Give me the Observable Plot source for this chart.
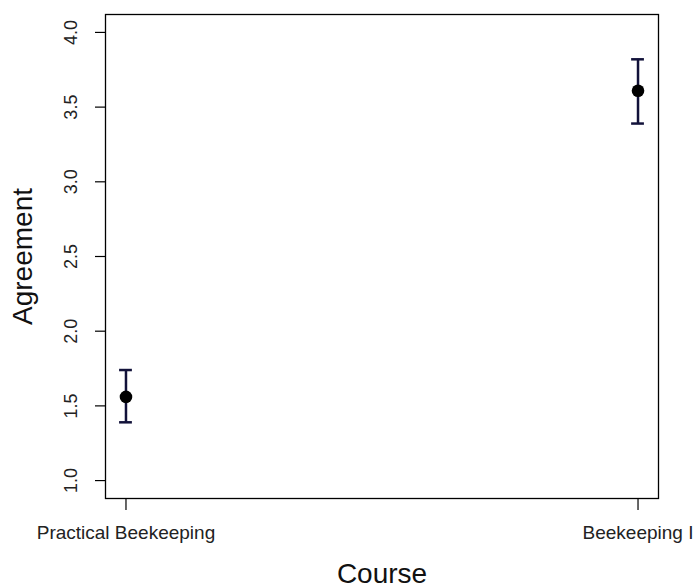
<!DOCTYPE html>
<html>
<head>
<meta charset="utf-8">
<script src="https://cdn.jsdelivr.net/npm/d3@7"></script>
<script src="https://cdn.jsdelivr.net/npm/@observablehq/plot@0.6"></script>
<style>
  html, body { margin: 0; padding: 0; background: #fff; }
  #chart svg { display: block; }
</style>
</head>
<body>
<div id="chart"></div>
<script>
const courses = ["Practical Beekeeping", "Beekeeping I"];
const positions = [1, 2];
const means = [1.56, 3.61];
const lower = [1.39, 3.39];
const upper = [1.74, 3.82];
const yTicks = [1.0, 1.5, 2.0, 2.5, 3.0, 3.5, 4.0];

const data = courses.map((c, i) => ({course: c, x: positions[i], mean: means[i], lo: lower[i], hi: upper[i]}));
const capHalf = 0.0125;
const barColor = "#12123a";
const font = "'Liberation Sans', Arial, Helvetica, sans-serif";

const chart = Plot.plot({
  width: 693,
  height: 588,
  marginLeft: 105,
  marginRight: 35,
  marginTop: 14,
  marginBottom: 90,
  style: {fontFamily: font, background: "#fff", color: "#000", overflow: "hidden"},
  x: {type: "linear", domain: [0.96, 2.04], axis: null},
  y: {type: "linear", domain: [0.88, 4.12], axis: null},
  marks: [
    Plot.frame({stroke: "#000", strokeWidth: 1.3}),
    Plot.axisY({ticks: yTicks, tickSize: 10, tickFormat: () => "", label: null, strokeWidth: 1.2}),
    Plot.text(yTicks, {y: d => d, frameAnchor: "left", dx: -34, rotate: -90, text: d => d.toFixed(1), fontSize: 18, textAnchor: "middle", lineAnchor: "middle", fill: "#222"}),
    Plot.axisX({ticks: positions, tickSize: 12, tickPadding: 15, tickFormat: d => courses[positions.indexOf(d)], fontSize: 19, label: null, strokeWidth: 1.2, fill: "#222"}),
    Plot.text(["Course"], {frameAnchor: "bottom", dy: 76, text: d => d, fontSize: 28, textAnchor: "middle", lineAnchor: "middle", fill: "#111"}),
    Plot.text(["Agreement"], {frameAnchor: "left", dx: -82, rotate: -90, text: d => d, fontSize: 28, textAnchor: "middle", lineAnchor: "middle", fill: "#111"}),
    Plot.ruleX(data, {x: "x", y1: "lo", y2: "hi", stroke: barColor, strokeWidth: 2.5}),
    Plot.ruleY(data, {y: "hi", x1: d => d.x - capHalf, x2: d => d.x + capHalf, stroke: barColor, strokeWidth: 2.5}),
    Plot.ruleY(data, {y: "lo", x1: d => d.x - capHalf, x2: d => d.x + capHalf, stroke: barColor, strokeWidth: 2.5}),
    Plot.dot(data, {x: "x", y: "mean", r: 6.3, fill: "#000", stroke: "none"})
  ]
});
document.getElementById("chart").appendChild(chart);
</script>
</body>
</html>
